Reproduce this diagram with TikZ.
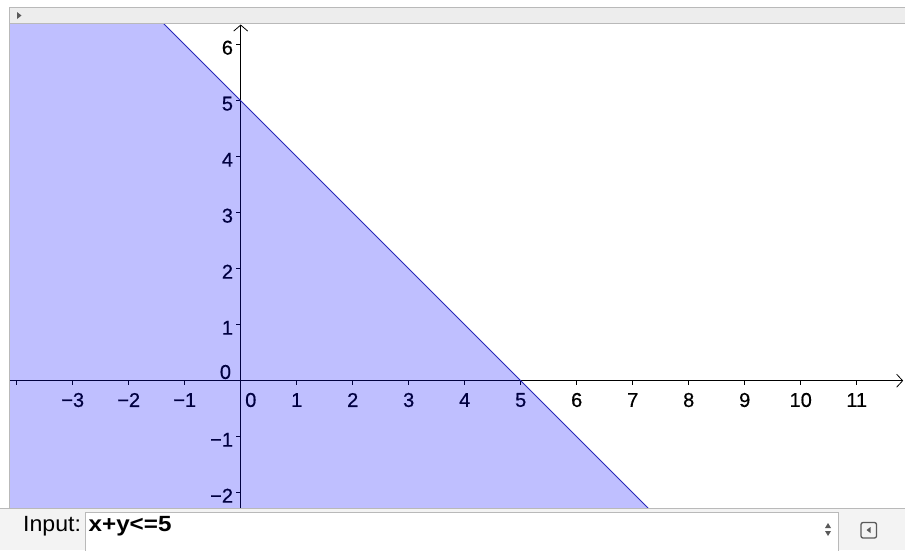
\documentclass[tikz,border=0pt]{standalone}
\usepackage{fontspec}
\setmainfont{Liberation Sans}
\newfontfamily\lblfont[FakeBold=0.5]{Liberation Sans}
\newfontfamily\uifont[FakeStretch=1.1]{Liberation Sans}
\newfontfamily\uilblfont[FakeStretch=1.05]{Liberation Sans}
\usetikzlibrary{arrows.meta}
\definecolor{barbg}{RGB}{237,237,237}
\definecolor{uibg}{RGB}{243,243,243}
\definecolor{barline}{RGB}{185,185,185}
\definecolor{regionblue}{RGB}{0,0,255}
\definecolor{boundary}{RGB}{40,40,185}
\definecolor{icongray}{RGB}{90,90,90}
\begin{document}
\begin{tikzpicture}[x=1pt,y=-1pt,
  ticklbl/.style={font=\lblfont\fontsize{20}{22}\selectfont, inner sep=0pt},
  uitext/.style={font=\uifont\fontsize{22}{24}\selectfont, inner sep=0pt, anchor=base west},
  uilabel/.style={font=\uilblfont\fontsize{22}{24}\selectfont, inner sep=0pt, anchor=base west},
  axisline/.style={line width=0.8pt, black},
  tickline/.style={line width=0.7pt, black}]
\useasboundingbox (0,0) rectangle (905,550);
\fill[white] (0,0) rectangle (905,550);
% top bar
\fill[barbg] (9,7) rectangle (905,24);
\draw[barline] (9,7.5) -- (905,7.5);
\draw[barline] (9,23.5) -- (905,23.5);
\draw[barline] (9.5,7) -- (9.5,508);
\fill[icongray] (17,12) -- (21.5,15.5) -- (17,19) -- cycle;
% graphics view
\begin{scope}
\clip (10,24) rectangle (905,508);
\begin{scope}[shift={(240.7,380.7)}, x=56pt, y=56pt]
  \draw[axisline, -{Straight Barb[length=6pt,width=13pt]}] (-4.5,0) -- (11.83,0);
  \draw[axisline, -{Straight Barb[length=6pt,width=14pt]}] (0,-2.5) -- (0,6.36);
  \foreach \i in {-4,-3,-2,-1,1,2,3,4,5,6,7,8,9,10,11}
    \draw[tickline] (\i,0) -- ++(0,-4.5pt);
  \foreach \j in {-2,-1,1,2,3,4,5,6}
    \draw[tickline] (0,\j) -- ++(-4.5pt,0);
  \foreach \i/\t in {-3/−3,-2/−2,-1/−1,1/1,2/2,3/3,4/4,5/5,6/6,7/7,8/8,9/9,10/10,11/11}
    \node[ticklbl] (xl\i) at ([yshift=-19.3pt]\i,0) {\t};
  \node[ticklbl] (xl0) at ([yshift=-19.3pt]0.18,0) {0};
  \foreach \j/\t in {-2/−2,-1/−1,1/1,2/2,3/3,4/4,5/5,6/6}
    \node[ticklbl, anchor=east] (yl\j) at ([xshift=-7.5pt,yshift=-3pt]0,\j) {\t};
  \node[ticklbl, anchor=east] (yl0) at ([xshift=-9.5pt,yshift=8.7pt]0,0) {0};
  % inequality region
  \fill[regionblue, fill opacity=0.25] (-5,10) -- (8,-3) -- (-5,-3) -- cycle;
  \draw[boundary, line width=1pt] (-5,10) -- (8,-3);
\end{scope}
\end{scope}
% input bar
\fill[uibg] (0,508) rectangle (905,550);
\draw[barline] (0,508.5) -- (905,508.5);
\draw[barline, fill=white] (85.5,512.5) rectangle (838.5,551);
\node[uilabel] (inlbl) at (23,531.5) {Input:};
\node[uitext] (intext) at (88.5,531.5) {\bfseries x+y<=5};
\fill[icongray] (825,528) -- (831,528) -- (828,523) -- cycle;
\fill[icongray] (825,531) -- (831,531) -- (828,536) -- cycle;
\draw[icongray, line width=1.3pt, rounded corners=2pt] (861,522.5) rectangle (876.5,538);
\fill[icongray] (870.5,527) -- (870.5,533) -- (866.5,530) -- cycle;
\end{tikzpicture}
\end{document}
